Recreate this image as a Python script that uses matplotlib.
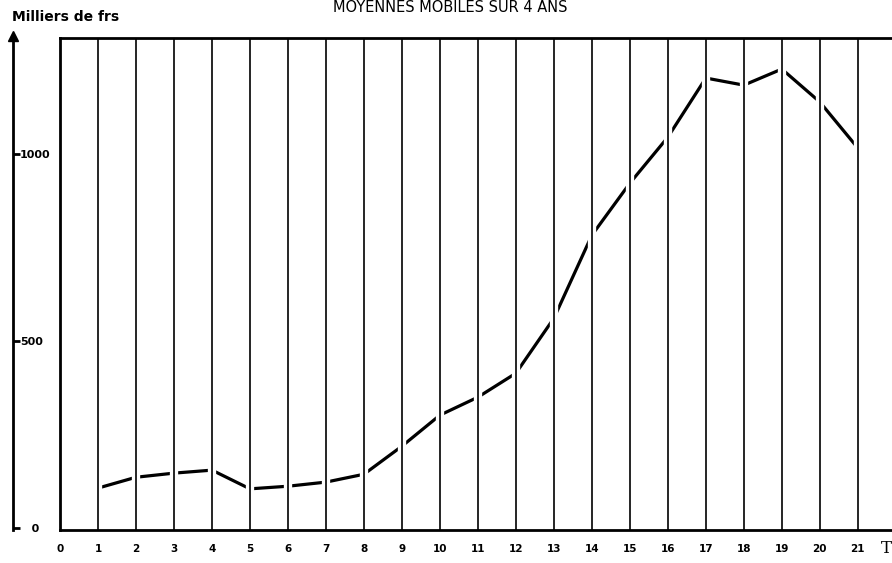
import matplotlib.pyplot as plt
import matplotlib.patheffects as pe


# annees 1..21, moyennes mobiles sur 4 ans (milliers de frs)
years = list(range(1, 22))
values = [107, 136, 147, 155, 105, 112, 123, 144, 219, 302, 350, 414,
          561, 783, 922, 1045, 1203, 1184, 1227, 1139, 1016]
xticks = list(range(0, 22))
yticks = [0, 500, 1000]
ytick_labels = ["   0", "500", "1000"]

W, H = 892, 563


def main():
    fig = plt.figure(figsize=(W / 100, H / 100), dpi=100)

    left, right = 60 / W, 1.0
    bottom, top = 1 - 530 / H, 1 - 38 / H
    ax = fig.add_axes([left, bottom, right - left, top - bottom])
    ax.set_xlim(0, 21.9)
    ax.set_ylim(-5, 1310)

    for s in ["left", "top", "bottom"]:
        ax.spines[s].set_linewidth(2.0)
    ax.spines["right"].set_visible(False)

    # courbe
    ax.plot(years, values, color="black", lw=2.3, solid_capstyle="butt", zorder=2)

    # verticales des annees (halo blanc -> coupures dans la courbe)
    for yr in years:
        ax.axvline(yr, color="black", lw=1.2, zorder=2.2,
                   path_effects=[pe.Stroke(linewidth=6, foreground="white"), pe.Normal()])

    ax.set_yticks([])
    ax.set_xticks(xticks)
    ax.set_xticklabels([str(x) for x in xticks], fontsize=7.5, fontweight="bold")
    ax.tick_params(axis="x", length=0, pad=10)
    ax.set_xlabel("T", fontsize=12, family="DejaVu Serif")
    ax.xaxis.set_label_coords(0.993, -0.02)

    # axe des ordonnees separe, a gauche
    ax2 = fig.add_axes([0, bottom, 13 / W, top - bottom])
    ax2.set_ylim(-5, 1310)
    ax2.set_xticks([])
    for s in ["left", "top", "bottom"]:
        ax2.spines[s].set_visible(False)
    ax2.spines["right"].set_linewidth(2.0)
    ax2.yaxis.tick_right()
    ax2.set_yticks(yticks)
    ax2.set_yticklabels(ytick_labels, fontsize=8, fontweight="bold")
    ax2.tick_params(axis="y", direction="out", length=5, width=2, pad=0)
    ax2.set_facecolor("none")
    ax2.plot(1, 1.005, marker="^", color="black", markersize=7,
             transform=ax2.transAxes, clip_on=False)

    fig.text(12 / W, 1 - 17 / H, "Milliers de frs", fontsize=10, fontweight="bold",
             va="center", ha="left")
    fig.text(450 / W, 1 - 8 / H, "MOYENNES MOBILES SUR 4 ANS", fontsize=10.5,
             fontweight="medium", va="center", ha="center")

    fig.savefig("out.png", dpi=100)


if __name__ == "__main__":
    main()
